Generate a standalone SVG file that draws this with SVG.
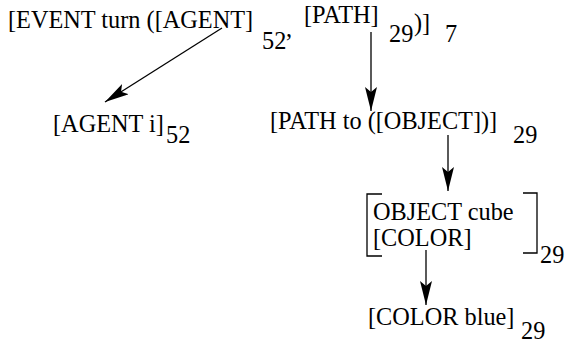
<svg xmlns="http://www.w3.org/2000/svg" width="568" height="343" viewBox="0 0 568 343">
<style>
text { font-family: "Liberation Serif", "Times New Roman", serif; font-size: 24.3px; fill: #000; }
.conn { stroke: #000; stroke-width: 1.3; fill: none; marker-end: url(#ah); }
.br { stroke: #000; stroke-width: 1.3; fill: none; }
</style>
<defs>
<marker id="ah" viewBox="0 0 24 12" refX="24" refY="6" markerWidth="24" markerHeight="12" orient="auto" markerUnits="userSpaceOnUse">
<path d="M0,0 L24,6 L0,12 L5,6 Z" fill="#000"/>
</marker>
</defs>
<g id="event">
<text x="8" y="28">[EVENT turn ([AGENT]</text>
<text x="262" y="49">52</text>
<text x="286" y="37">,</text>
<text x="304" y="23">[PATH]</text>
<text x="389" y="42">29</text>
<text x="414" y="31">)]</text>
<text x="445" y="42">7</text>
</g>
<g id="agent">
<text x="53" y="132">[AGENT i]</text>
<text x="166" y="143">52</text>
</g>
<g id="path">
<text x="270" y="129">[PATH to ([OBJECT])]</text>
<text x="513" y="143">29</text>
</g>
<g id="object">
<path class="br" d="M382,194 H367 V256 H382"/>
<path class="br" d="M523,193 H537 V253 H523"/>
<text x="373" y="220">OBJECT cube</text>
<text x="373" y="246">[COLOR]</text>
<text x="540" y="263">29</text>
</g>
<g id="color">
<text x="368" y="325">[COLOR blue]</text>
<text x="521" y="339">29</text>
</g>
<g id="connectors">
<line class="conn" x1="222" y1="28" x2="105" y2="102"/>
<line class="conn" x1="371" y1="32" x2="371" y2="111"/>
<line class="conn" x1="448" y1="135" x2="448" y2="191"/>
<line class="conn" x1="426" y1="250" x2="426" y2="305"/>
</g>
</svg>
